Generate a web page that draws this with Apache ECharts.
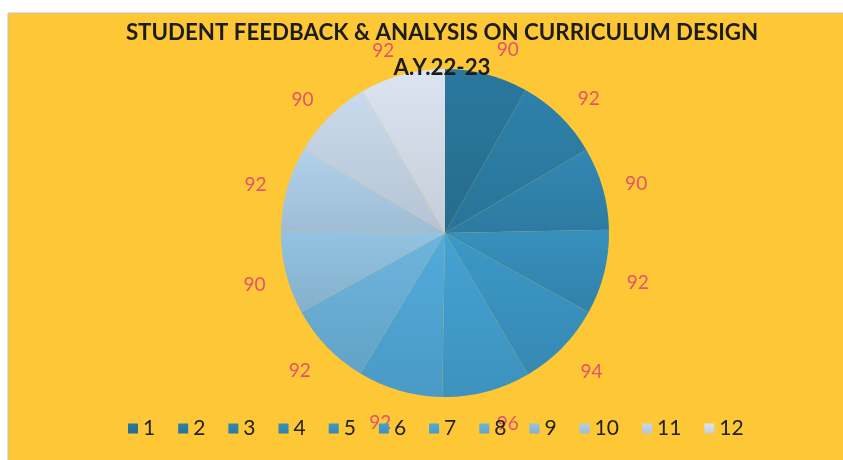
<!DOCTYPE html>
<html>
<head>
<meta charset="utf-8">
<script src="https://cdn.jsdelivr.net/npm/echarts@6/dist/echarts.min.js"></script>
<style>html,body{margin:0;padding:0;background:#fff;}#c{width:843px;height:460px;}</style>
</head>
<body>
<div id="c"></div>
<script>
const categories = ['1','2','3','4','5','6','7','8','9','10','11','12'];
const values = [90, 92, 90, 92, 94, 96, 92, 92, 90, 92, 90, 92];
const sliceColors = ['#2A789E','#2E81AA','#3288B3','#3790BD','#3C98C7','#44A2D3','#52ABDB','#6DB5DE','#93C3E2','#B0D1EB','#C9DAEC','#DCE4F1'];
const titleLines = ['STUDENT FEEDBACK & ANALYSIS ON CURRICULUM DESIGN', 'A.Y.22-23'];

function shade(hex, f) {
  const n = parseInt(hex.slice(1), 16);
  let r = (n >> 16) & 255, g = (n >> 8) & 255, b = n & 255;
  r = Math.round(r * f); g = Math.round(g * f); b = Math.round(b * f);
  return 'rgb(' + r + ',' + g + ',' + b + ')';
}

const chart = echarts.init(document.getElementById('c'), null, {renderer: 'canvas'});
const data = categories.map((c, i) => ({
  name: c,
  value: values[i],
  itemStyle: {
    color: {
      type: 'linear', x: 0, y: 0, x2: 0, y2: 1,
      colorStops: [
        {offset: 0, color: sliceColors[i]},
        {offset: 1, color: shade(sliceColors[i], 0.9)}
      ]
    }
  }
}));

const pieCenterX = 445;
const pieCenterY = 233;

chart.setOption({
  backgroundColor: '#ffffff',
  graphic: [{
    type: 'rect', z: -10, silent: true,
    shape: {x: 8, y: 13, width: 840, height: 450},
    style: {fill: '#FDC735', stroke: '#c9c2b0', lineWidth: 1}
  }],
  title: {
    text: titleLines.join('\n'),
    left: 437, top: 10, textAlign: 'center',
    textStyle: {fontFamily: 'Lato', fontWeight: 'bold', fontSize: 22.3, color: '#1c1c1c', lineHeight: 35}
  },
  legend: {
    data: categories,
    bottom: 16, left: 123,
    itemWidth: 10, itemHeight: 10, itemGap: 23,
    icon: 'rect',
    textStyle: {fontFamily: 'Lato', fontSize: 21, color: '#222'}
  },
  series: [{
    type: 'pie',
    center: [pieCenterX, pieCenterY],
    radius: 164,
    startAngle: 90,
    clockwise: true,
    avoidLabelOverlap: false,
    data: data,
    label: {
      show: true, position: 'outside',
      formatter: '{c}',
      fontFamily: 'Lato', fontSize: 19, color: '#E2536C'
    },
    labelLine: {show: false, length: 20, length2: 0},
    labelLayout: function (p) {
      const cx = p.labelRect.x + p.labelRect.width / 2;
      const cy = p.labelRect.y + p.labelRect.height / 2;
      return {dy: (cy - pieCenterY) * 0.05 + 4, dx: (cx - pieCenterX) * -0.015 + 1};
    },
    emphasis: {disabled: true}
  }]
});
</script>
</body>
</html>
